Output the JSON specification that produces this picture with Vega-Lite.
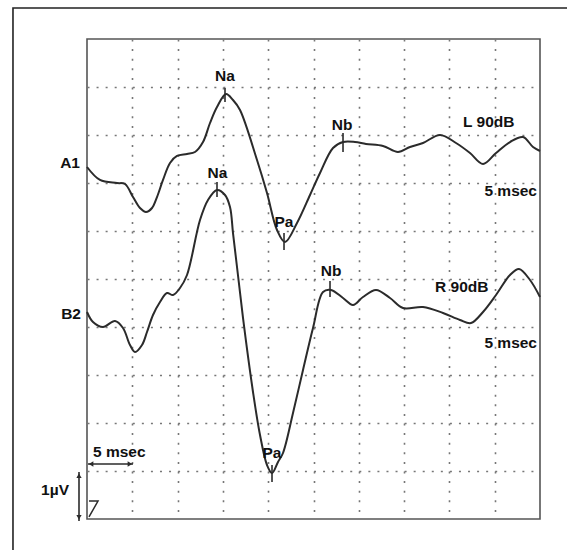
{
  "$schema": "https://vega.github.io/schema/vega-lite/v6.json",
  "autosize": {"type": "none"},
  "width": 453,
  "height": 480,
  "padding": {"left": 87, "top": 39, "right": 27, "bottom": 31},
  "background": "white",
  "view": {"stroke": "#555", "strokeWidth": 1.6},
  "config": {
    "text": {"font": "Liberation Sans", "fontWeight": "bold", "fontSize": 15.5, "color": "#111", "baseline": "alphabetic"},
    "axis": {"labels": false, "ticks": false, "domain": false, "title": null, "grid": true, "gridColor": "#777", "gridWidth": 1.6}
  },
  "datasets": {
    "traces": [
      {"trace": "A1", "t": 0, "v": 7.333}, {"trace": "A1", "t": 1.435, "v": 7.063}, {"trace": "A1", "t": 3.311, "v": 7.0}, {"trace": "A1", "t": 4.194, "v": 6.979},
      {"trace": "A1", "t": 5.077, "v": 6.708}, {"trace": "A1", "t": 5.85, "v": 6.479}, {"trace": "A1", "t": 6.512, "v": 6.396}, {"trace": "A1", "t": 7.175, "v": 6.479},
      {"trace": "A1", "t": 7.727, "v": 6.708}, {"trace": "A1", "t": 8.389, "v": 7.063}, {"trace": "A1", "t": 9.162, "v": 7.417}, {"trace": "A1", "t": 9.934, "v": 7.563},
      {"trace": "A1", "t": 11.038, "v": 7.604}, {"trace": "A1", "t": 11.921, "v": 7.646}, {"trace": "A1", "t": 12.804, "v": 7.854}, {"trace": "A1", "t": 13.577, "v": 8.25},
      {"trace": "A1", "t": 14.349, "v": 8.583}, {"trace": "A1", "t": 15.343, "v": 8.854}, {"trace": "A1", "t": 16.115, "v": 8.729}, {"trace": "A1", "t": 16.888, "v": 8.521},
      {"trace": "A1", "t": 18.765, "v": 7.479}, {"trace": "A1", "t": 19.868, "v": 6.792}, {"trace": "A1", "t": 20.972, "v": 6.021}, {"trace": "A1", "t": 21.855, "v": 5.771},
      {"trace": "A1", "t": 23.18, "v": 6.167}, {"trace": "A1", "t": 24.615, "v": 6.75}, {"trace": "A1", "t": 25.719, "v": 7.208}, {"trace": "A1", "t": 27.154, "v": 7.729},
      {"trace": "A1", "t": 28.258, "v": 7.854}, {"trace": "A1", "t": 29.58, "v": 7.854}, {"trace": "A1", "t": 30.796, "v": 7.813}, {"trace": "A1", "t": 32.672, "v": 7.771},
      {"trace": "A1", "t": 34.328, "v": 7.646}, {"trace": "A1", "t": 35.652, "v": 7.75}, {"trace": "A1", "t": 37.087, "v": 7.833}, {"trace": "A1", "t": 38.964, "v": 8.0},
      {"trace": "A1", "t": 40.73, "v": 7.833}, {"trace": "A1", "t": 42.276, "v": 7.625}, {"trace": "A1", "t": 43.711, "v": 7.396}, {"trace": "A1", "t": 45.146, "v": 7.625},
      {"trace": "A1", "t": 46.691, "v": 7.854}, {"trace": "A1", "t": 48.126, "v": 7.958}, {"trace": "A1", "t": 49.23, "v": 7.75}, {"trace": "A1", "t": 50.0, "v": 7.667},
      {"trace": "B2", "t": 0, "v": 4.313}, {"trace": "B2", "t": 0.662, "v": 4.104}, {"trace": "B2", "t": 1.766, "v": 4.0}, {"trace": "B2", "t": 3.091, "v": 4.125},
      {"trace": "B2", "t": 3.974, "v": 3.979}, {"trace": "B2", "t": 4.746, "v": 3.625}, {"trace": "B2", "t": 5.298, "v": 3.479}, {"trace": "B2", "t": 6.071, "v": 3.625},
      {"trace": "B2", "t": 6.623, "v": 3.896}, {"trace": "B2", "t": 7.285, "v": 4.25}, {"trace": "B2", "t": 8.058, "v": 4.521}, {"trace": "B2", "t": 8.83, "v": 4.708},
      {"trace": "B2", "t": 9.492, "v": 4.667}, {"trace": "B2", "t": 10.265, "v": 4.813}, {"trace": "B2", "t": 11.038, "v": 5.083}, {"trace": "B2", "t": 12.473, "v": 6.229},
      {"trace": "B2", "t": 13.356, "v": 6.646}, {"trace": "B2", "t": 14.349, "v": 6.854}, {"trace": "B2", "t": 15.232, "v": 6.75}, {"trace": "B2", "t": 15.784, "v": 6.5},
      {"trace": "B2", "t": 16.115, "v": 5.958}, {"trace": "B2", "t": 16.557, "v": 5.25}, {"trace": "B2", "t": 17.219, "v": 4.188}, {"trace": "B2", "t": 18.323, "v": 2.646},
      {"trace": "B2", "t": 19.096, "v": 1.75}, {"trace": "B2", "t": 19.868, "v": 1.125}, {"trace": "B2", "t": 20.42, "v": 0.958}, {"trace": "B2", "t": 21.082, "v": 1.188},
      {"trace": "B2", "t": 21.634, "v": 1.375}, {"trace": "B2", "t": 22.738, "v": 2.208}, {"trace": "B2", "t": 23.842, "v": 3.104}, {"trace": "B2", "t": 24.946, "v": 3.979},
      {"trace": "B2", "t": 26.05, "v": 4.729}, {"trace": "B2", "t": 26.933, "v": 4.771}, {"trace": "B2", "t": 28.258, "v": 4.604}, {"trace": "B2", "t": 29.361, "v": 4.458},
      {"trace": "B2", "t": 30.465, "v": 4.625}, {"trace": "B2", "t": 31.9, "v": 4.771}, {"trace": "B2", "t": 33.445, "v": 4.604}, {"trace": "B2", "t": 34.88, "v": 4.396},
      {"trace": "B2", "t": 37.087, "v": 4.417}, {"trace": "B2", "t": 39.295, "v": 4.292}, {"trace": "B2", "t": 41.172, "v": 4.146}, {"trace": "B2", "t": 42.386, "v": 4.083},
      {"trace": "B2", "t": 43.711, "v": 4.313}, {"trace": "B2", "t": 45.146, "v": 4.667}, {"trace": "B2", "t": 46.691, "v": 5.083}, {"trace": "B2", "t": 47.685, "v": 5.208},
      {"trace": "B2", "t": 48.899, "v": 4.979}, {"trace": "B2", "t": 50.0, "v": 4.625}
    ],
    "peakTicks": [
      {"peak": "A1 Na", "t": 15.232, "v": 8.979, "v2": 8.688},
      {"peak": "B2 Na", "t": 14.349, "v": 7.021, "v2": 6.708},
      {"peak": "A1 Pa", "t": 21.745, "v": 5.958, "v2": 5.604},
      {"peak": "B2 Pa", "t": 20.42, "v": 1.125, "v2": 0.771},
      {"peak": "A1 Nb", "t": 28.258, "v": 8.042, "v2": 7.646},
      {"peak": "B2 Nb", "t": 26.822, "v": 4.958, "v2": 4.625}
    ],
    "labelsCenter": [
      {"text": "Na", "t": 15.232, "v": 9.125},
      {"text": "Na", "t": 14.405, "v": 7.104},
      {"text": "Pa", "t": 21.745, "v": 6.083},
      {"text": "Pa", "t": 20.42, "v": 1.271},
      {"text": "Nb", "t": 28.147, "v": 8.104},
      {"text": "Nb", "t": 26.933, "v": 5.063}
    ],
    "labelsLeft": [
      {"text": "L 90dB", "t": 41.503, "v": 8.167},
      {"text": "R 90dB", "t": 38.412, "v": 4.729},
      {"text": "5 msec", "t": 0.662, "v": 1.292}
    ],
    "labelsRight": [
      {"text": "5 msec", "t": 49.669, "v": 6.729},
      {"text": "5 msec", "t": 49.669, "v": 3.563},
      {"text": "A1", "t": -0.773, "v": 7.313},
      {"text": "B2", "t": -0.662, "v": 4.167},
      {"text": "1µV", "t": -1.987, "v": 0.5}
    ],
    "calBars": [
      {"bar": "time", "t": 0.11, "t2": 5.077, "v": 1.146, "v2": 1.146},
      {"bar": "amplitude", "t": -0.883, "t2": -0.883, "v": 0.979, "v2": -0.042}
    ],
    "arrowHeads": [
      {"dir": "left", "t": 0.45, "v": 1.146},
      {"dir": "right", "t": 4.74, "v": 1.146},
      {"dir": "up", "t": -0.883, "v": 0.9},
      {"dir": "down", "t": -0.883, "v": 0.036}
    ],
    "pulse": [
      {"i": 1, "t": 0.221, "v": 0.375},
      {"i": 2, "t": 1.214, "v": 0.375},
      {"i": 3, "t": 0.221, "v": 0.042}
    ],
    "outer": [
      {"t": -8.17, "t2": 62, "v": 10.646, "v2": -2}
    ]
  },
  "encoding": {
    "x": {"type": "quantitative", "scale": {"domain": [0, 50], "nice": false, "zero": false}, "axis": {"values": [5, 10, 15, 20, 25, 30, 35, 40, 45], "gridDash": [2, 7.6]}},
    "y": {"type": "quantitative", "scale": {"domain": [0, 10], "nice": false, "zero": false}, "axis": {"values": [1, 2, 3, 4, 5, 6, 7, 8, 9], "gridDash": [2, 7.06]}}
  },
  "layer": [
    {
      "data": {"name": "outer"},
      "mark": {"type": "rect", "fill": null, "stroke": "#222", "strokeWidth": 1.6},
      "encoding": {"x": {"field": "t"}, "x2": {"field": "t2"}, "y": {"field": "v"}, "y2": {"field": "v2"}}
    },
    {
      "data": {"name": "traces"},
      "mark": {"type": "line", "interpolate": "catmull-rom", "color": "#2b2b2b", "strokeWidth": 2},
      "encoding": {"x": {"field": "t"}, "y": {"field": "v"}, "detail": {"field": "trace"}}
    },
    {
      "data": {"name": "peakTicks"},
      "mark": {"type": "rule", "color": "#2b2b2b", "strokeWidth": 1.6},
      "encoding": {"x": {"field": "t"}, "y": {"field": "v"}, "y2": {"field": "v2"}}
    },
    {
      "data": {"name": "calBars"},
      "mark": {"type": "rule", "color": "#2b2b2b", "strokeWidth": 1.6},
      "encoding": {"x": {"field": "t"}, "x2": {"field": "t2"}, "y": {"field": "v"}, "y2": {"field": "v2"}}
    },
    {
      "data": {"name": "arrowHeads"},
      "mark": {"type": "point", "filled": true, "color": "#2b2b2b", "size": 28, "opacity": 1},
      "encoding": {
        "x": {"field": "t"}, "y": {"field": "v"},
        "shape": {"field": "dir", "scale": {"domain": ["left", "right", "up", "down"], "range": ["triangle-left", "triangle-right", "triangle-up", "triangle-down"]}, "legend": null}
      }
    },
    {
      "data": {"name": "pulse"},
      "mark": {"type": "line", "color": "#2b2b2b", "strokeWidth": 1.5},
      "encoding": {"x": {"field": "t"}, "y": {"field": "v"}, "order": {"field": "i"}}
    },
    {
      "data": {"name": "labelsCenter"},
      "mark": {"type": "text", "align": "center"},
      "encoding": {"x": {"field": "t"}, "y": {"field": "v"}, "text": {"field": "text"}}
    },
    {
      "data": {"name": "labelsLeft"},
      "mark": {"type": "text", "align": "left"},
      "encoding": {"x": {"field": "t"}, "y": {"field": "v"}, "text": {"field": "text"}}
    },
    {
      "data": {"name": "labelsRight"},
      "mark": {"type": "text", "align": "right"},
      "encoding": {"x": {"field": "t"}, "y": {"field": "v"}, "text": {"field": "text"}}
    }
  ]
}
